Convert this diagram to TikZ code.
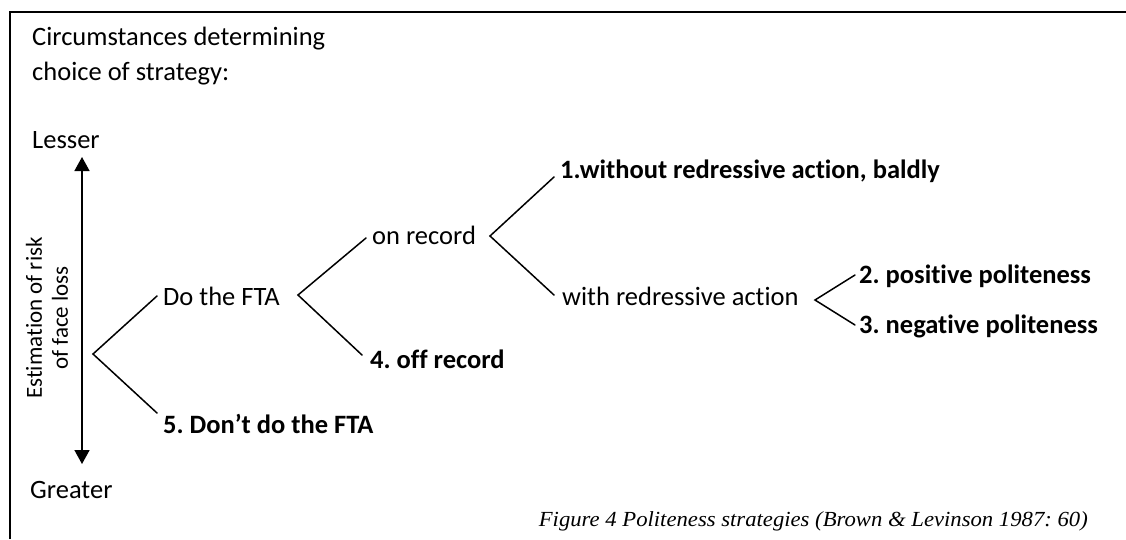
\documentclass[tikz,border=0pt]{standalone}
\usepackage{fontspec}
\setmainfont{Carlito}[Ligatures=NoCommon]
\newfontfamily\capfont{Liberation Serif}
\usetikzlibrary{arrows.meta}
\frenchspacing
\begin{document}
\begin{tikzpicture}[x=1pt,y=-1pt,
  lbl/.style={anchor=base west,inner sep=0pt,font=\fontsize{26.5}{31}\selectfont},
  blbl/.style={lbl,font=\fontsize{26.5}{31}\selectfont\bfseries},
  branch/.style={line width=1.5pt,line cap=round},
  frame/.style={line width=1.6pt}]
\useasboundingbox (0,0) rectangle (1126,539);
\draw[frame] (10,539) -- (10,12) -- (1126,12);
% title
\node[lbl,align=left,anchor=north west,font=\fontsize{26.5}{35}\selectfont] (title) at (32,27) {Circumstances determining\\choice of strategy:};
% scale
\node[lbl] (lesser) at (32,148) {Lesser};
\node[lbl] (greater) at (30,498) {Greater};
\coordinate (atop) at (82,157);
\coordinate (abot) at (82,464);
\draw[line width=1.6pt,{Triangle[length=14pt,width=15pt]}-{Triangle[length=14pt,width=15pt]}] (atop) -- (abot);
\node[rotate=90,align=center,inner sep=0pt,font=\fontsize{23}{26}\selectfont] (risk) at (47,318) {Estimation of risk\\of face loss};
% nodes
\node[lbl] (dofta) at (163,305) {Do the FTA};
\node[blbl] (dont) at (163,433) {5. Don’t do the FTA};
\node[lbl] (onrec) at (372,244) {on record};
\node[blbl] (offrec) at (370,368) {4. off record};
\node[blbl] (without) at (560,178) {1.without redressive action, baldly};
\node[lbl] (withred) at (562,305) {with redressive action};
\node[blbl] (pos) at (859,283) {2. positive politeness};
\node[blbl] (neg) at (859,333) {3. negative politeness};
% apexes
\coordinate (a1) at (93,354);
\coordinate (a2) at (298,295);
\coordinate (a3) at (490,236);
\coordinate (a4) at (815,300);
% branches
\draw[branch] ([xshift=-6pt,yshift=9pt]dofta.base west) -- (a1) -- ([xshift=-6pt,yshift=20pt]dont.base west);
\draw[branch] ([xshift=-6pt,yshift=6pt]onrec.base west) -- (a2) -- ([xshift=-8pt,yshift=13pt]offrec.base west);
\draw[branch] ([xshift=-6pt,yshift=1pt]without.base west) -- (a3) -- ([xshift=-8pt,yshift=10pt]withred.base west);
\draw[branch] ([xshift=-4pt,yshift=8pt]pos.base west) -- (a4) -- ([xshift=-4pt,yshift=8pt]neg.base west);
% caption
\node[anchor=base east,inner sep=0pt,transform shape,xscale=1.055,font=\capfont\itshape\fontsize{21.5}{25}\selectfont] (cap) at (1088,526) {Figure 4 Politeness strategies (Brown \& Levinson 1987: 60)};
\end{tikzpicture}
\end{document}
